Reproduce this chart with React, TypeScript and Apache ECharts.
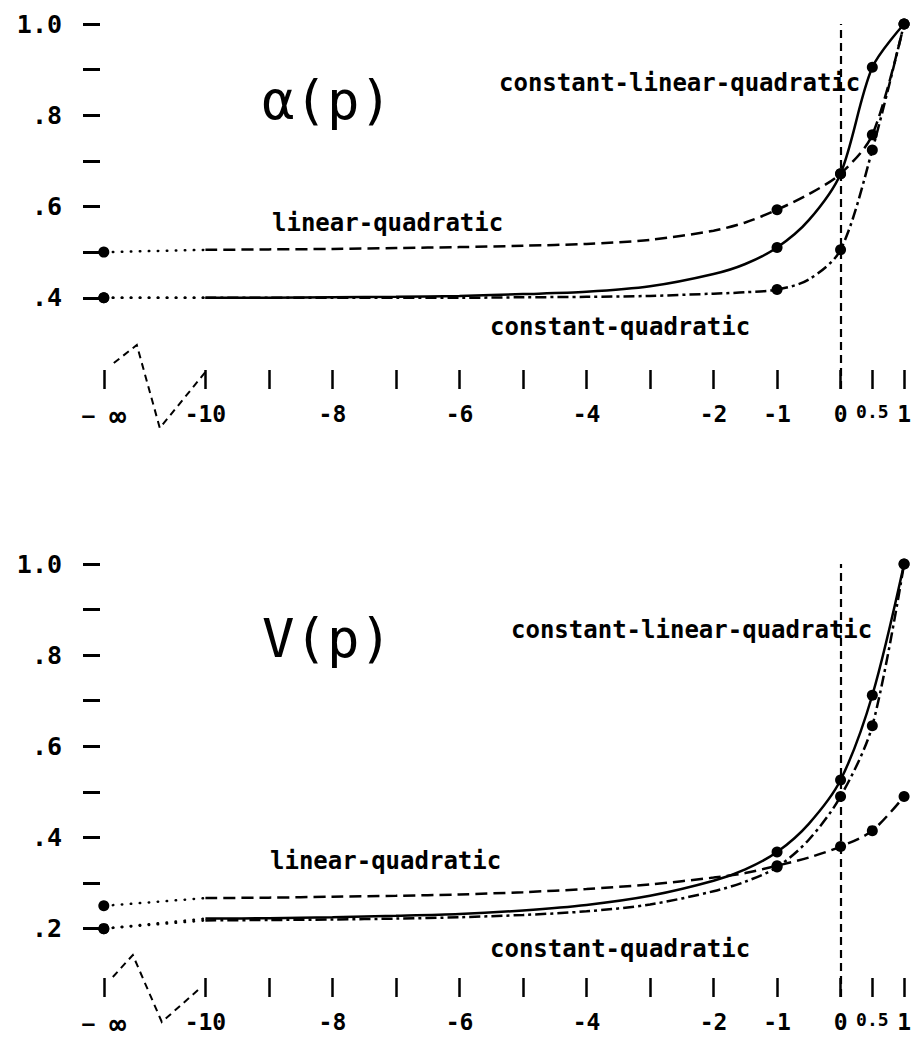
import React, { useEffect, useRef } from 'react';
import * as echarts from 'echarts';

// ---------- data ----------
const X_INF = -11.6; // axis position used for p = -infinity
const P = [-10, -9, -8, -7, -6, -5, -4, -3, -2, -1.5, -1, -0.5, 0, 0.5, 1];
const DOT_P = [-1, 0, 0.5, 1];
const X_TICKS = [X_INF, -10, -9, -8, -7, -6, -5, -4, -3, -2, -1, 0, 0.5, 1];
const X_LABELS = [X_INF, -10, -8, -6, -4, -2, -1, 0, 0.5, 1];

// alpha(p)
const ALPHA_CLQ = [0.400, 0.400, 0.401, 0.402, 0.404, 0.408, 0.413, 0.425, 0.452, 0.474, 0.510, 0.570, 0.672, 0.905, 1.0];
const ALPHA_LQ = [0.505, 0.506, 0.507, 0.509, 0.511, 0.514, 0.518, 0.527, 0.547, 0.565, 0.593, 0.627, 0.672, 0.757, 1.0];
const ALPHA_CQ = [0.400, 0.400, 0.400, 0.400, 0.400, 0.401, 0.402, 0.404, 0.409, 0.412, 0.418, 0.440, 0.505, 0.724, 1.0];
const ALPHA_INF_CLQ = 0.40;
const ALPHA_INF_LQ = 0.50;
const ALPHA_INF_CQ = 0.40;

// v(p)
const V_CLQ = [0.222, 0.223, 0.225, 0.228, 0.232, 0.240, 0.252, 0.272, 0.305, 0.330, 0.368, 0.430, 0.526, 0.712, 1.0];
const V_LQ = [0.267, 0.268, 0.270, 0.272, 0.275, 0.280, 0.287, 0.297, 0.312, 0.322, 0.338, 0.356, 0.380, 0.415, 0.490];
const V_CQ = [0.218, 0.219, 0.220, 0.222, 0.225, 0.230, 0.238, 0.253, 0.282, 0.303, 0.335, 0.395, 0.490, 0.645, 1.0];
const V_INF_CLQ = 0.20;
const V_INF_LQ = 0.25;
const V_INF_CQ = 0.20;

const ALPHA_Y_TICKS = [0.4, 0.5, 0.6, 0.7, 0.8, 0.9, 1.0];
const ALPHA_Y_LABELS = [0.4, 0.6, 0.8, 1.0];
const V_Y_TICKS = [0.2, 0.3, 0.4, 0.5, 0.6, 0.7, 0.8, 0.9, 1.0];
const V_Y_LABELS = [0.2, 0.4, 0.6, 0.8, 1.0];

const LABEL_CLQ = 'constant-linear-quadratic';
const LABEL_LQ = 'linear-quadratic';
const LABEL_CQ = 'constant-quadratic';
const TITLE_ALPHA = 'α(p)';
const TITLE_V = 'V(p)';

// ---------- styles ----------
const MONO = '"DejaVu Sans Mono", monospace';
const BLACK = '#000';
const DASH_LQ = [12, 6];
const DASH_CQ = [11, 4, 3, 4];
const DOTTED = [0.5, 8.5];

function fmtX(v: number) {
  if (Math.abs(v - X_INF) < 1e-6) return '{m|−} {inf|∞}';
  if (Math.abs(v - 0.5) < 1e-6) return '{half|0.5}';
  return String(v);
}
function fmtY(v: number) {
  if (Math.abs(v - 1) < 1e-6) return '1.0';
  return '.' + Math.round(v * 10);
}

function curve(idx: number, ys: number[], infVal: number, type: any, name: string, markZero: boolean) {
  const main: any = {
    type: 'line',
    name,
    xAxisIndex: idx,
    yAxisIndex: idx,
    smooth: 0.3,
    clip: false,
    symbol: 'circle',
    symbolSize: 11,
    showSymbol: true,
    itemStyle: { color: BLACK },
    lineStyle: { color: BLACK, width: 2.5, type },
    data: P.map((p, i) => ({
      value: [p, ys[i]],
      symbol: DOT_P.indexOf(p) >= 0 ? 'circle' : 'none',
    })),
    z: 3,
  };
  if (markZero) {
    main.markLine = {
      silent: true,
      symbol: ['none', 'none'],
      label: { show: false },
      lineStyle: { color: BLACK, width: 2.2, type: [8, 5] },
      data: [{ xAxis: 0 }],
    };
  }
  const dotted: any = {
    type: 'line',
    xAxisIndex: idx,
    yAxisIndex: idx,
    clip: false,
    symbol: 'circle',
    symbolSize: 11,
    itemStyle: { color: BLACK },
    lineStyle: { color: BLACK, width: 2.5, type: DOTTED, cap: 'round' },
    data: [
      { value: [X_INF, infVal], symbol: 'circle' },
      { value: [-10, ys[0]], symbol: 'none' },
    ],
    z: 2,
  };
  return [dotted, main];
}

function xAxis(idx: number) {
  return {
    type: 'value',
    gridIndex: idx,
    min: -11.66,
    max: 1,
    axisLine: { show: false, onZero: false },
    splitLine: { show: false },
    axisTick: {
      show: true,
      inside: true,
      length: 19,
      customValues: X_TICKS,
      lineStyle: { color: BLACK, width: 2.5 },
    },
    axisLabel: {
      customValues: X_LABELS,
      formatter: fmtX,
      margin: 13,
      color: BLACK,
      fontFamily: MONO,
      fontWeight: 'bold',
      fontSize: 23,
      rich: {
        m: { fontFamily: MONO, fontSize: 23, color: BLACK },
        inf: { fontFamily: MONO, fontWeight: 'bold', fontSize: 28, color: BLACK },
        half: { fontFamily: MONO, fontWeight: 'bold', fontSize: 18, color: BLACK },
      },
    },
  };
}

function yAxis(idx: number, min: number, ticks: number[], labels: number[]) {
  return {
    type: 'value',
    gridIndex: idx,
    min,
    max: 1,
    axisLine: { show: false, onZero: false },
    splitLine: { show: false },
    axisTick: {
      show: true,
      length: 17,
      customValues: ticks,
      lineStyle: { color: BLACK, width: 3 },
    },
    axisLabel: {
      customValues: labels,
      formatter: fmtY,
      margin: 38,
      color: BLACK,
      fontFamily: MONO,
      fontWeight: 'bold',
      fontSize: 25,
    },
  };
}

function annText(text: string, x: number, y: number) {
  return {
    type: 'text',
    x,
    y,
    style: {
      text,
      fill: BLACK,
      fontFamily: MONO,
      fontWeight: 'bold',
      fontSize: 24,
      textAlign: 'left',
      textVerticalAlign: 'middle',
    },
  };
}
function titleText(text: string, x: number, y: number) {
  return {
    type: 'text',
    x,
    y,
    style: {
      text,
      fill: BLACK,
      fontFamily: MONO,
      fontWeight: 'normal',
      fontSize: 54,
      textAlign: 'left',
      textVerticalAlign: 'middle',
    },
  };
}

export default function App() {
  const ref = useRef<HTMLDivElement>(null);
  useEffect(() => {
    if (!ref.current) return;
    const chart = echarts.init(ref.current, null, { renderer: 'svg' });
    const option: any = {
      animation: false,
      backgroundColor: '#fff',
      grid: [
        { left: 100, top: 24, width: 811.5, height: 365 },
        { left: 100, top: 564, width: 811.5, height: 433 },
      ],
      xAxis: [xAxis(0), xAxis(1)],
      yAxis: [
        yAxis(0, 0.2, ALPHA_Y_TICKS, ALPHA_Y_LABELS),
        yAxis(1, 0.05, V_Y_TICKS, V_Y_LABELS),
      ],
      series: [
        ...curve(0, ALPHA_CLQ, ALPHA_INF_CLQ, 'solid', LABEL_CLQ, true),
        ...curve(0, ALPHA_LQ, ALPHA_INF_LQ, DASH_LQ, LABEL_LQ, false),
        ...curve(0, ALPHA_CQ, ALPHA_INF_CQ, DASH_CQ, LABEL_CQ, false),
        ...curve(1, V_CLQ, V_INF_CLQ, 'solid', LABEL_CLQ, true),
        ...curve(1, V_LQ, V_INF_LQ, DASH_LQ, LABEL_LQ, false),
        ...curve(1, V_CQ, V_INF_CQ, DASH_CQ, LABEL_CQ, false),
      ],
    };
    chart.setOption(option);

    // axis-break symbols placed from the axes' own scale
    const breakShape = (g: number, yMin: number, offs: number[][]) => {
      const a = chart.convertToPixel({ gridIndex: g } as any, [X_INF, yMin]) as number[];
      const b = chart.convertToPixel({ gridIndex: g } as any, [-10, yMin]) as number[];
      const pts = [
        [a[0] + offs[0][0], a[1] + offs[0][1]],
        [a[0] + offs[1][0], a[1] + offs[1][1]],
        [a[0] + offs[2][0], a[1] + offs[2][1]],
        [b[0] + offs[3][0], b[1] + offs[3][1]],
      ];
      return {
        type: 'polyline',
        shape: { points: pts },
        style: { stroke: BLACK, lineWidth: 2, lineDash: [7, 5], fill: null },
      };
    };

    chart.setOption({
      graphic: [
        breakShape(0, 0.2, [[10, -26], [33, -44], [56, 39], [0, -17]]),
        breakShape(1, 0.05, [[9, -20], [29, -42], [58, 25], [-4, -10]]),
        titleText(TITLE_ALPHA, 262, 100),
        annText(LABEL_CLQ, 499, 83),
        annText(LABEL_LQ, 272, 223),
        annText(LABEL_CQ, 490, 327),
        titleText(TITLE_V, 262, 638),
        annText(LABEL_CLQ, 511, 630),
        annText(LABEL_LQ, 270, 861),
        annText(LABEL_CQ, 490, 949),
      ],
    });
    return () => chart.dispose();
  }, []);
  return (
    <div
      ref={ref}
      style={{ position: 'absolute', left: 0, top: 0, width: 914, height: 1039, background: '#fff' }}
    />
  );
}
